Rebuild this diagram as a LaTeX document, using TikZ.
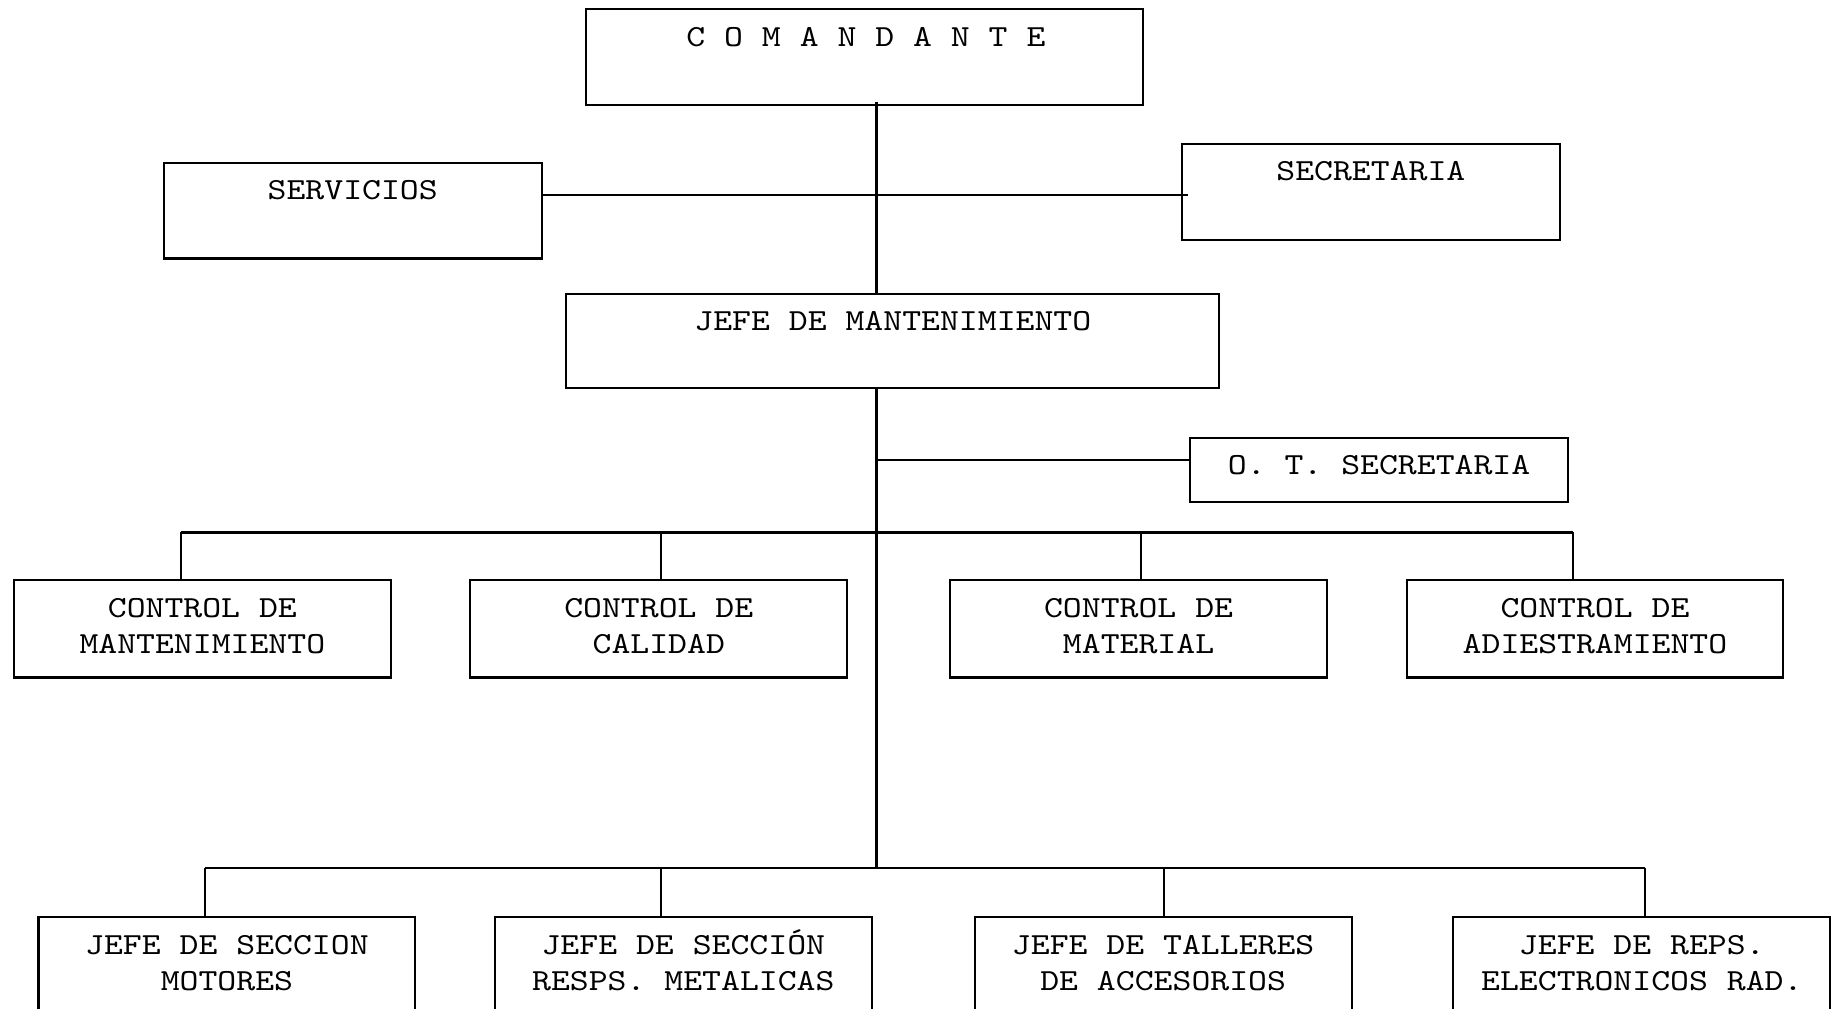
\documentclass[tikz,border=0pt]{standalone}
\usepackage{fontspec}
\newfontfamily\cour{lmmono10-regular.otf}[FakeStretch=1.174]
\tikzset{
  box/.style={draw, line width=1.8bp, rectangle, inner sep=0pt, anchor=north west},
  lbl/.style={font=\cour\fontsize{26.2bp}{31bp}\selectfont, align=center, anchor=base, inner sep=0pt},
  wire/.style={line width=1.8bp}
}
\begin{document}
\begin{tikzpicture}[x=1bp,y=-1bp]
\useasboundingbox (0,0) rectangle (1568,862);
\clip (0,0) rectangle (1568,862);
% boxes
\node[box, minimum width=476bp, minimum height=82bp] (cmd) at (500,7) {};
\node[box, minimum width=323bp, minimum height=82bp] (serv) at (139,138) {};
\node[box, minimum width=323bp, minimum height=82bp] (secr) at (1009,122) {};
\node[box, minimum width=558bp, minimum height=81bp] (jefe) at (483,250) {};
\node[box, minimum width=323bp, minimum height=55bp] (ots) at (1016,373) {};
\node[box, minimum width=322bp, minimum height=83bp] (c1) at (11,495) {};
\node[box, minimum width=322bp, minimum height=83bp] (c2) at (401,495) {};
\node[box, minimum width=322bp, minimum height=83bp] (c3) at (811,495) {};
\node[box, minimum width=322bp, minimum height=83bp] (c4) at (1201,495) {};
\node[box, minimum width=322bp, minimum height=100bp] (s1) at (32,783) {};
\node[box, minimum width=322bp, minimum height=100bp] (s2) at (422,783) {};
\node[box, minimum width=322bp, minimum height=100bp] (s3) at (832,783) {};
\node[box, minimum width=322bp, minimum height=100bp] (s4) at (1241,783) {};
% texts (base anchor = baseline of last line)
\node[lbl] (tcmd) at ([xshift=1bp,yshift=-32.5bp]cmd.north) {C O M A N D A N T E};
\node[lbl] (tserv) at ([yshift=-32.5bp]serv.north) {SERVICIOS};
\node[lbl] (tsecr) at ([yshift=-32.5bp]secr.north) {SECRETARIA};
\node[lbl] (tjefe) at ([yshift=-32.5bp]jefe.north) {JEFE DE MANTENIMIENTO};
\node[lbl] (tots) at ([yshift=-32.5bp]ots.north) {O. T. SECRETARIA};
\node[lbl] (tc1) at ([yshift=-63.5bp]c1.north) {CONTROL DE\\MANTENIMIENTO};
\node[lbl] (tc2) at ([yshift=-63.5bp]c2.north) {CONTROL DE\\CALIDAD};
\node[lbl] (tc3) at ([yshift=-63.5bp]c3.north) {CONTROL DE\\MATERIAL};
\node[lbl] (tc4) at ([yshift=-63.5bp]c4.north) {CONTROL DE\\ADIESTRAMIENTO};
\node[lbl] (ts1) at ([yshift=-63.5bp]s1.north) {JEFE DE SECCION\\MOTORES};
\node[lbl] (ts2) at ([yshift=-63.5bp]s2.north) {JEFE DE SECCIÓN\\RESPS. METALICAS};
\node[lbl] (ts3) at ([yshift=-63.5bp]s3.north) {JEFE DE TALLERES\\DE ACCESORIOS};
\node[lbl] (ts4) at ([yshift=-63.5bp]s4.north) {JEFE DE REPS.\\ELECTRONICOS RAD.};
% coordinates
\coordinate (tx) at (749,0);
\coordinate (h1) at (0,167);
\coordinate (h2) at (0,393);
\coordinate (b2) at (749,742);
\coordinate (d1) at (155,455);
\coordinate (d2) at (565,455);
\coordinate (d3) at (975,455);
\coordinate (d4) at (1344,455);
\coordinate (e1) at (175,742);
\coordinate (e2) at (565,742);
\coordinate (e3) at (995,742);
\coordinate (e4) at (1406,742);
% connectors
\draw[wire] ([yshift=4bp]cmd.south -| tx) -- (jefe.north -| tx);
\draw[wire] (serv.east |- h1) -- ([xshift=6bp]secr.west |- h1);
\draw[wire] (jefe.south -| tx) -- (b2);
\draw[wire] (tx |- h2) -- (ots.west |- h2);
\draw[wire] (d1) -- (d4);
\draw[wire] (d1) -- (d1 |- c1.north);
\draw[wire] (d2) -- (d2 |- c2.north);
\draw[wire] (d3) -- (d3 |- c3.north);
\draw[wire] (d4) -- (d4 |- c4.north);
\draw[wire] (e1) -- (e4);
\draw[wire] (e1) -- (e1 |- s1.north);
\draw[wire] (e2) -- (e2 |- s2.north);
\draw[wire] (e3) -- (e3 |- s3.north);
\draw[wire] (e4) -- (e4 |- s4.north);
\end{tikzpicture}
\end{document}
